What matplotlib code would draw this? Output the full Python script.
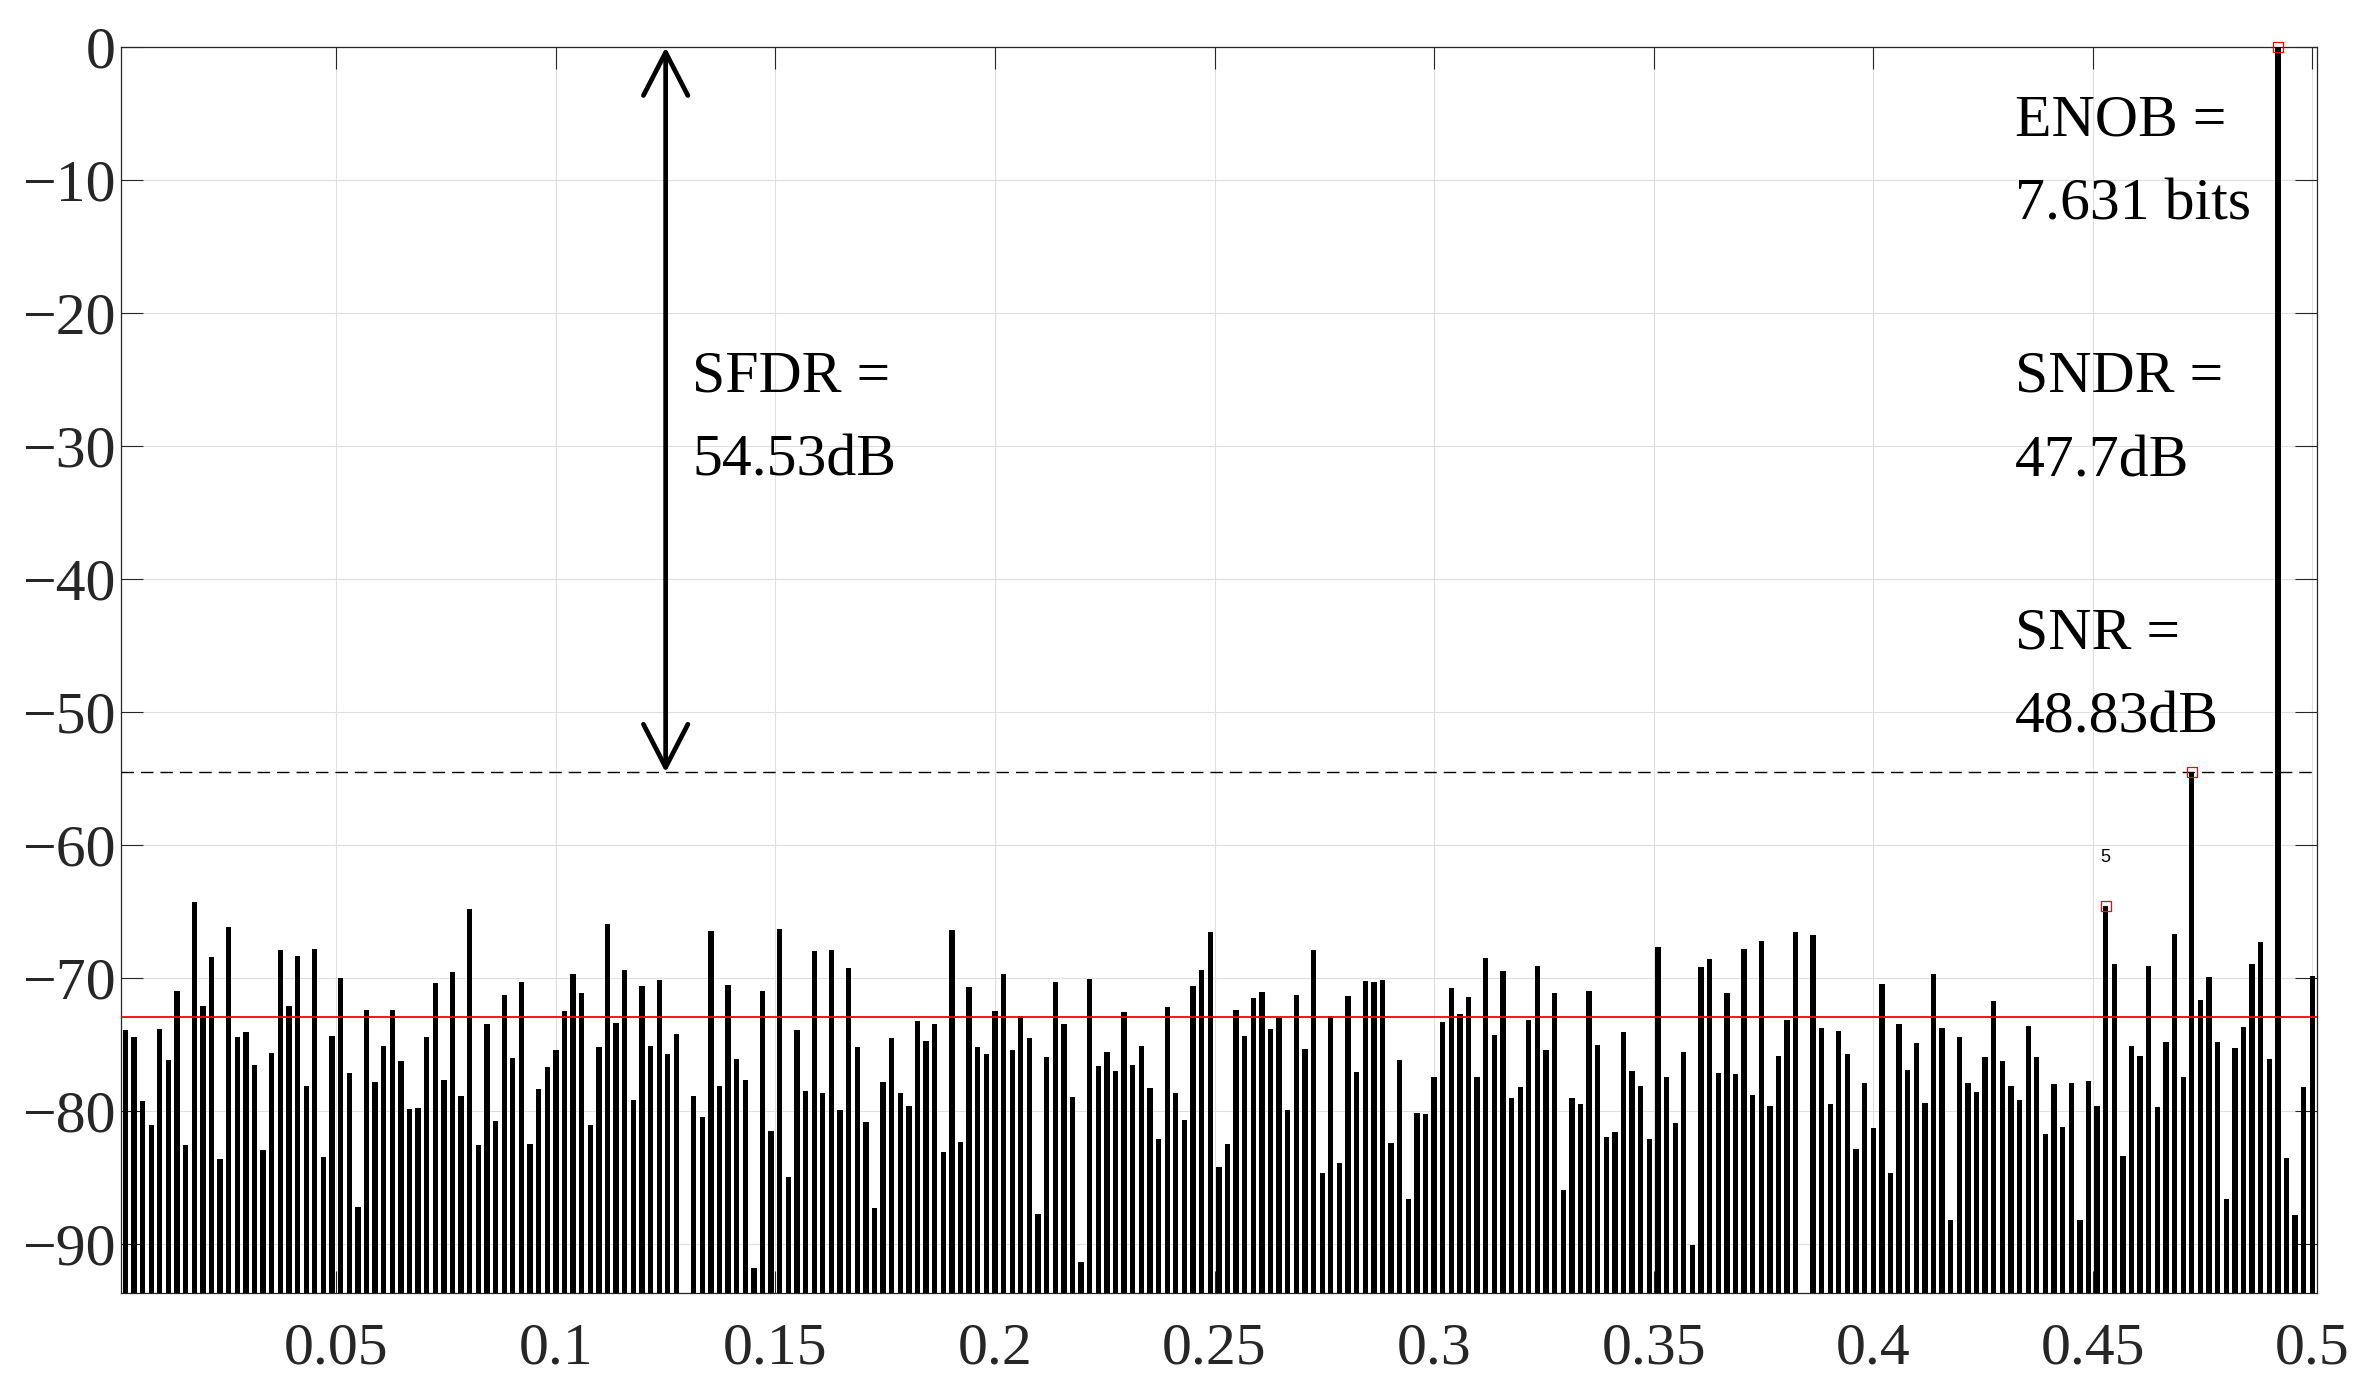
import numpy as np
import matplotlib
matplotlib.use('Agg')
import matplotlib.pyplot as plt

# spectrum magnitude (dB) for bins 1..255
mag_db = [
    -73.88, -74.41, -79.22, -81.03, -73.81, -76.14, -70.95, -82.53, -64.26, -72.08, -68.40,
    -83.58, -66.14, -74.41, -74.04, -76.52, -82.91, -75.61, -67.87, -72.08, -68.32, -78.10,
    -67.79, -83.43, -74.34, -69.97, -77.12, -87.19, -72.38, -77.79, -75.09, -72.38, -76.22,
    -79.82, -79.75, -74.41, -70.35, -77.64, -69.52, -78.85, -64.79, -82.53, -73.43, -80.73,
    -71.25, -75.99, -70.28, -82.46, -78.32, -76.67, -75.39, -72.46, -69.67, -71.10, -81.03,
    -75.16, -65.91, -73.36, -69.37, -79.15, -70.58, -75.09, -70.13, -75.69, -74.19,
    -93.70, -78.85, -80.43, -66.44, -78.10, -70.50, -76.07, -77.64, -91.78, -70.95, -81.48,
    -66.29, -84.94, -73.88, -78.47, -67.94, -78.62, -67.87, -79.90, -69.22, -75.16, -80.80,
    -87.27, -77.79, -74.49, -78.62, -79.60, -73.21, -74.71, -73.43, -83.06, -66.37, -82.31,
    -70.65, -75.16, -75.69, -72.46, -69.67, -75.39, -72.83, -74.49, -87.72, -75.91, -70.28,
    -73.43, -78.92, -91.33, -70.05, -76.59, -75.54, -76.97, -72.53, -76.52, -75.09, -78.25,
    -82.08, -72.16, -78.62, -80.65, -70.58, -69.37, -66.52, -84.19, -82.46, -72.38,
    -74.34, -71.48, -71.03, -73.81, -72.98, -79.90, -71.25, -75.31, -67.87, -84.64, -72.83,
    -83.88, -71.33, -77.04, -70.20, -70.28, -70.13, -82.38, -76.14, -86.59, -80.13, -80.20,
    -77.42, -73.28, -70.73, -72.68, -71.40, -77.42, -68.47, -74.26, -69.45, -79.00, -78.17,
    -73.13, -69.07, -75.39, -71.10, -85.91, -79.00, -79.45, -70.95, -75.01, -81.93, -81.55,
    -74.04, -76.97, -78.10, -82.08, -67.64, -77.42, -80.88, -75.54, -90.05, -69.15, -68.55,
    -77.12, -71.10, -77.19, -67.79, -78.77, -67.19, -79.60, -75.84, -73.13, -66.52,
    -93.70, -66.74, -73.73, -79.45, -73.96, -75.69, -82.83, -77.87, -81.25, -70.43, -84.64,
    -73.43, -76.89, -74.86, -79.37, -69.67, -73.73, -88.17, -74.41, -77.87, -78.55, -75.91,
    -71.70, -76.22, -78.10, -79.15, -73.58, -75.91, -81.70, -77.94, -81.18, -77.87, -88.17,
    -77.75, -79.62, -64.54, -68.95, -83.40, -75.11, -75.85, -69.09, -79.71, -74.81, -66.70,
    -77.44, -54.53, -71.65, -69.93, -74.81, -86.61, -75.25, -73.69, -68.95, -67.28, -76.08,
    0.0, -83.54, -87.82, -78.18, -69.83,
]
n_fft = 510
bins = np.arange(1, len(mag_db) + 1)
freq = bins / n_fft

# marked bins: fundamental, largest spur, 5th harmonic
marked_bins = [251, 241, 231]
noise_floor = -72.89
sfdr_level = -54.53
y_bottom = -93.7

xticks = [0.05, 0.1, 0.15, 0.2, 0.25, 0.3, 0.35, 0.4, 0.45, 0.5]
xtick_labels = ['0.05', '0.1', '0.15', '0.2', '0.25', '0.3', '0.35', '0.4', '0.45', '0.5']
yticks = [0, -10, -20, -30, -40, -50, -60, -70, -80, -90]

metric_lines = [('ENOB =', '7.631 bits'), ('SNDR =', '47.7dB'), ('SNR =', '48.83dB')]
sfdr_lines = ('SFDR =', '54.53dB')

plt.rcParams['font.family'] = ['Liberation Serif', 'DejaVu Serif']
plt.rcParams['axes.unicode_minus'] = True

fig = plt.figure(figsize=(23.69, 13.91), dpi=100)
ax = fig.add_axes([0.0511, 0.0702, 0.9268, 0.8958])

mag = np.array(mag_db)
floor = y_bottom - 10
ax.bar(freq, mag - floor, bottom=floor, width=0.62 / n_fft, color='black', zorder=3)

ax.axhline(noise_floor, color='red', lw=1.3, zorder=4)
ax.plot([freq[0] - 0.5 / n_fft, 0.5], [sfdr_level, sfdr_level], color='black', lw=1.0,
        dashes=(9, 5), zorder=4)

mk = np.array(marked_bins) - 1
ax.plot(freq[mk], mag[mk], 's', ms=6.5, mfc='none', mec='red', mew=0.9, zorder=5,
        clip_on=False)
ax.text(freq[marked_bins[2] - 1], -60.9, '5', family='Liberation Sans', fontsize=13,
        ha='center', va='center', zorder=5)

# SFDR arrow
ax.annotate('', xy=(0.125, sfdr_level), xytext=(0.125, 0),
            arrowprops=dict(arrowstyle='<->,head_length=1.55,head_width=0.8',
                            mutation_scale=20, lw=3.4, color='black',
                            shrinkA=0, shrinkB=0), zorder=6)
ax.text(0.1311, -25.9, sfdr_lines[0], fontsize=43, va='baseline', ha='left')
ax.text(0.1311, -32.2, sfdr_lines[1], fontsize=43, va='baseline', ha='left')

for i, (l1, l2) in enumerate(metric_lines):
    y0 = -6.6 - 19.3 * i
    ax.text(0.4323, y0, l1, fontsize=43, va='baseline', ha='left', zorder=6)
    ax.text(0.4323, y0 - 6.35, l2, fontsize=43, va='baseline', ha='left', zorder=6)

ax.set_xlim(freq[0] - 0.5 / n_fft, 0.5 + 0.5 / n_fft)
ax.set_ylim(y_bottom, 0)
ax.set_xticks(xticks)
ax.set_xticklabels(xtick_labels)
ax.set_yticks(yticks)

ax.grid(True, color='#dfdfdf', lw=0.8, zorder=0)
ax.set_axisbelow(True)
ax.tick_params(direction='in', length=15.8, width=0.8, color='#262626',
               labelcolor='#262626', labelsize=43, top=True, right=True)
ax.tick_params(axis='x', pad=21)
ax.tick_params(axis='y', pad=4)
for s in ax.spines.values():
    s.set_color('#262626')
    s.set_linewidth(0.9)

fig.savefig('out.png', dpi=100)
